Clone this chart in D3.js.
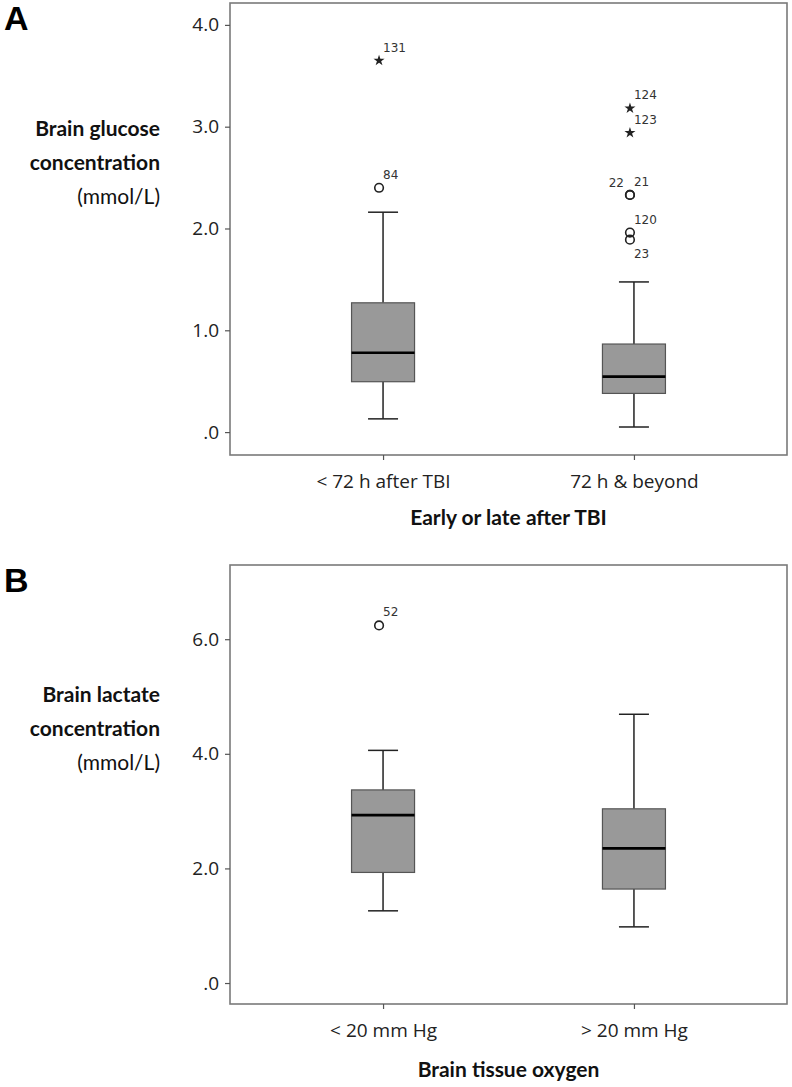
<!DOCTYPE html>
<html>
<head>
<meta charset="utf-8">
<script src="https://cdn.jsdelivr.net/npm/d3@7"></script>
<style>
  html, body { margin: 0; padding: 0; background: #fff; }
  svg { display: block; }
</style>
</head>
<body>
<svg id="chart" width="792" height="1087"></svg>
<script>
// ---------- Panel A data ----------
const catsA = ["< 72 h after TBI", "72 h & beyond"];
const lowA = [0.13, 0.05];
const q1A = [0.495, 0.38];
const medA = [0.78, 0.545];
const q3A = [1.27, 0.865];
const highA = [2.16, 1.475];
const outCatA = [0, 0, 1, 1, 1, 1, 1, 1];
const outValA = [3.65, 2.40, 3.18, 2.94, 2.33, 2.33, 1.96, 1.89];
const outIdA = ["131", "84", "124", "123", "22", "21", "120", "23"];
const outKindA = ["star", "circle", "star", "star", "circle", "circle", "circle", "circle"];
const outPlaceA = ["above", "above", "above", "above", "left", "above", "above", "below"];
const ticksA = [0, 1, 2, 3, 4];
const tickLabelsA = [".0", "1.0", "2.0", "3.0", "4.0"];
const yTitleA = ["Brain glucose", "concentration", "(mmol/L)"];
const xTitleA = "Early or late after TBI";

// ---------- Panel B data ----------
const catsB = ["< 20 mm Hg", "> 20 mm Hg"];
const lowB = [1.26, 0.98];
const q1B = [1.93, 1.64];
const medB = [2.93, 2.35];
const q3B = [3.37, 3.04];
const highB = [4.06, 4.69];
const outCatB = [0];
const outValB = [6.24];
const outIdB = ["52"];
const outKindB = ["circle"];
const outPlaceB = ["above"];
const ticksB = [0, 2, 4, 6];
const tickLabelsB = [".0", "2.0", "4.0", "6.0"];
const yTitleB = ["Brain lactate", "concentration", "(mmol/L)"];
const xTitleB = "Brain tissue oxygen";

const svg = d3.select("#chart");
const TICK_FONT = "'Open Sans', sans-serif";
const TITLE_FONT = "Lato, 'Open Sans', sans-serif";

function drawPanel(cfg) {
  const g = svg.append("g");
  const x = d3.scalePoint().domain(cfg.cats).range([cfg.left, cfg.right]).padding(0.61);
  const y = d3.scaleLinear().domain(cfg.yDomain).range([cfg.bottom, cfg.top]);

  // frame
  g.append("rect")
    .attr("x", cfg.left).attr("y", cfg.top)
    .attr("width", cfg.right - cfg.left).attr("height", cfg.bottom - cfg.top)
    .attr("fill", "none").attr("stroke", "#7a7a7a").attr("stroke-width", 1.6);

  // y axis
  const ya = g.append("g").attr("transform", `translate(${cfg.left},0)`)
    .call(d3.axisLeft(y).tickValues(cfg.ticks).tickFormat((d, i) => cfg.tickLabels[i]).tickSize(5).tickPadding(6));
  ya.select(".domain").remove();
  ya.selectAll("line").attr("stroke", "#555").attr("stroke-width", 1.2);
  ya.selectAll("text").attr("font-family", TICK_FONT).attr("font-size", 19).attr("fill", "#222");

  // x axis
  const xa = g.append("g").attr("transform", `translate(0,${cfg.bottom})`)
    .call(d3.axisBottom(x).tickSize(5).tickPadding(15));
  xa.select(".domain").remove();
  xa.selectAll("line").attr("stroke", "#555").attr("stroke-width", 1.2);
  xa.selectAll("text").attr("font-family", TICK_FONT).attr("font-size", 19).attr("fill", "#222");

  // boxes
  const boxW = 63, capW = 30;
  cfg.cats.forEach((c, i) => {
    const cx = x(c);
    const bg = g.append("g");
    // whiskers
    bg.append("line").attr("x1", cx).attr("x2", cx).attr("y1", y(cfg.high[i])).attr("y2", y(cfg.q3[i]))
      .attr("stroke", "#222").attr("stroke-width", 1.5);
    bg.append("line").attr("x1", cx).attr("x2", cx).attr("y1", y(cfg.q1[i])).attr("y2", y(cfg.low[i]))
      .attr("stroke", "#222").attr("stroke-width", 1.5);
    bg.append("line").attr("x1", cx - capW / 2).attr("x2", cx + capW / 2).attr("y1", y(cfg.high[i])).attr("y2", y(cfg.high[i]))
      .attr("stroke", "#222").attr("stroke-width", 1.5);
    bg.append("line").attr("x1", cx - capW / 2).attr("x2", cx + capW / 2).attr("y1", y(cfg.low[i])).attr("y2", y(cfg.low[i]))
      .attr("stroke", "#222").attr("stroke-width", 1.5);
    // box
    bg.append("rect").attr("x", cx - boxW / 2).attr("y", y(cfg.q3[i]))
      .attr("width", boxW).attr("height", y(cfg.q1[i]) - y(cfg.q3[i]))
      .attr("fill", "#999999").attr("stroke", "#555").attr("stroke-width", 1.2);
    // median
    bg.append("line").attr("x1", cx - boxW / 2).attr("x2", cx + boxW / 2).attr("y1", y(cfg.med[i])).attr("y2", y(cfg.med[i]))
      .attr("stroke", "#000").attr("stroke-width", 2.6);
  });

  // outliers
  const star = d3.symbol().type(d3.symbolStar).size(38);
  cfg.outVal.forEach((v, i) => {
    const ox = x(cfg.cats[cfg.outCat[i]]) - 4;
    const oy = y(v);
    if (cfg.outKind[i] === "star") {
      g.append("path").attr("d", star()).attr("transform", `translate(${ox},${oy})`).attr("fill", "#222");
    } else {
      g.append("circle").attr("cx", ox).attr("cy", oy).attr("r", 4.3)
        .attr("fill", "none").attr("stroke", "#222").attr("stroke-width", 1.6);
    }
    const place = cfg.outPlace[i];
    const t = g.append("text").text(cfg.outId[i])
      .attr("font-family", "'DejaVu Sans', sans-serif").attr("font-size", 12).attr("fill", "#333");
    if (place === "above") t.attr("x", ox + 4).attr("y", oy - 9);
    else if (place === "below") t.attr("x", ox + 4).attr("y", oy + 18);
    else if (place === "left") t.attr("x", ox - 6).attr("y", oy - 8).attr("text-anchor", "end");
  });

  // x title
  g.append("text").text(cfg.xTitle)
    .attr("x", (cfg.left + cfg.right) / 2).attr("y", cfg.xTitleY)
    .attr("text-anchor", "middle").attr("font-family", TITLE_FONT).attr("font-weight", 700)
    .attr("font-size", 21).attr("fill", "#111");

  // y title
  cfg.yTitle.forEach((line, i) => {
    g.append("text").text(line)
      .attr("x", 160).attr("y", cfg.yTitleY + i * 34)
      .attr("text-anchor", "end").attr("font-family", TITLE_FONT)
      .attr("font-weight", i < 2 ? 700 : 400)
      .attr("font-size", 21).attr("fill", "#111");
  });

  // panel letter
  svg.append("text").text(cfg.letter)
    .attr("x", 4).attr("y", cfg.letterY)
    .attr("font-family", "'Liberation Sans', Arial, sans-serif").attr("font-weight", 700)
    .attr("font-size", 34).attr("fill", "#000");
}

drawPanel({
  cats: catsA, low: lowA, q1: q1A, med: medA, q3: q3A, high: highA,
  outCat: outCatA, outVal: outValA, outId: outIdA, outKind: outKindA, outPlace: outPlaceA,
  ticks: ticksA, tickLabels: tickLabelsA, yTitle: yTitleA, xTitle: xTitleA,
  left: 230, right: 787, top: 3, bottom: 455, yDomain: [-0.225, 4.215],
  xTitleY: 525, yTitleY: 136, letter: "A", letterY: 30
});

drawPanel({
  cats: catsB, low: lowB, q1: q1B, med: medB, q3: q3B, high: highB,
  outCat: outCatB, outVal: outValB, outId: outIdB, outKind: outKindB, outPlace: outPlaceB,
  ticks: ticksB, tickLabels: tickLabelsB, yTitle: yTitleB, xTitle: xTitleB,
  left: 230, right: 787, top: 565, bottom: 1004, yDomain: [-0.366, 7.295],
  xTitleY: 1077, yTitleY: 702, letter: "B", letterY: 592
});
</script>
</body>
</html>
